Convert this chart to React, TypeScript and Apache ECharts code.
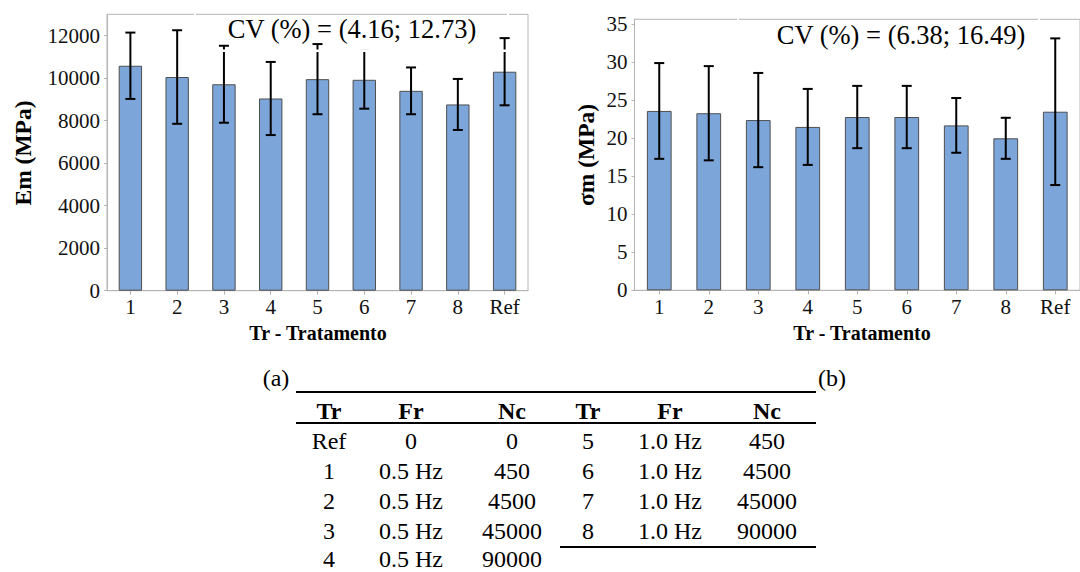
import React, { useEffect, useRef } from 'react';
import * as echarts from 'echarts';

const categories = ['1', '2', '3', '4', '5', '6', '7', '8', 'Ref'];
const emMean = [10580, 10050, 9710, 9040, 9950, 9920, 9400, 8760, 10300];
const emSd = [1560, 2200, 1810, 1720, 1650, 1360, 1100, 1200, 1580];
const sigmaMean = [23.6, 23.3, 22.4, 21.5, 22.8, 22.8, 21.7, 20.0, 23.5];
const sigmaSd = [6.3, 6.2, 6.2, 5.0, 4.1, 4.1, 3.6, 2.7, 9.65];
const emAxis = { min: 0, max: 13000, interval: 2000 };
const sigmaAxis = { min: 0, max: 35.66, interval: 5 };
const cvEm = 'CV (%) = (4.16; 12.73)';
const cvSigma = 'CV (%) = (6.38; 16.49)';
const xTitle = 'Tr - Tratamento';
const emTitle = 'Em (MPa)';
const sigmaTitle = 'σm (MPa)';
const tableHeader = ['Tr', 'Fr', 'Nc', 'Tr', 'Fr', 'Nc'];
const tableLeftRows = [
  ['Ref', '0', '0'],
  ['1', '0.5 Hz', '450'],
  ['2', '0.5 Hz', '4500'],
  ['3', '0.5 Hz', '45000'],
  ['4', '0.5 Hz', '90000'],
];
const tableRightRows = [
  ['5', '1.0 Hz', '450'],
  ['6', '1.0 Hz', '4500'],
  ['7', '1.0 Hz', '45000'],
  ['8', '1.0 Hz', '90000'],
];

const SERIF = "'Liberation Serif', 'Times New Roman', serif";
const GRAY = '#b4b4b4';

export default function App() {
  const ref = useRef<HTMLDivElement>(null);

  useEffect(() => {
    document.body.style.margin = '0';
    if (!ref.current) return;
    const chart = echarts.init(ref.current, undefined, { renderer: 'svg' });

    const errRender = (params: any, api: any) => {
      const x = api.value(0);
      const lo = api.coord([x, api.value(1)]);
      const hi = api.coord([x, api.value(2)]);
      const hw = 5;
      const style = { stroke: '#000', lineWidth: 2 };
      return {
        type: 'group',
        children: [
          { type: 'line', shape: { x1: hi[0], y1: hi[1], x2: lo[0], y2: lo[1] }, style },
          { type: 'line', shape: { x1: hi[0] - hw, y1: hi[1], x2: hi[0] + hw, y2: hi[1] }, style },
          { type: 'line', shape: { x1: lo[0] - hw, y1: lo[1], x2: lo[0] + hw, y2: lo[1] }, style },
        ],
      };
    };

    const xAxisBase = (gridIndex: number) => ({
      type: 'category',
      gridIndex,
      data: categories,
      boundaryGap: true,
      axisLine: { show: true, lineStyle: { color: GRAY, width: 1 } },
      axisTick: { show: true, alignWithLabel: true, length: 4, lineStyle: { color: GRAY } },
      axisLabel: { color: '#111', fontFamily: SERIF, fontSize: 21, margin: 6 },
      splitLine: { show: false },
    });

    const yAxisBase = (gridIndex: number, ax: any) => ({
      type: 'value',
      gridIndex,
      min: ax.min,
      max: ax.max,
      interval: ax.interval,
      axisLine: { show: true, lineStyle: { color: GRAY, width: 1 } },
      axisTick: { show: true, length: 3, lineStyle: { color: GRAY } },
      axisLabel: {
        color: '#111',
        fontFamily: SERIF,
        fontSize: 21,
        margin: 7,
        showMaxLabel: false,
        formatter: (v: number) => String(v),
      },
      splitLine: { show: false },
    });

    const barStyle = { color: '#7ca6d9', borderColor: '#4f4f4f', borderWidth: 1 };

    const tableText = (text: string, x: number, y: number, bold: boolean) => ({
      type: 'text',
      x,
      y,
      z: 100,
      style: {
        text,
        fontFamily: SERIF,
        fontSize: 24,
        fontWeight: bold ? 'bold' : 'normal',
        fill: '#000',
        align: 'center',
        verticalAlign: 'middle',
      },
    });

    const colX = [329, 411, 512, 588, 670, 767];
    const rowY = [441, 471, 501, 531, 559];
    const graphics: any[] = [];
    tableHeader.forEach((h, i) => graphics.push(tableText(h, colX[i], 411, true)));
    tableLeftRows.forEach((r, ri) => r.forEach((c, ci) => graphics.push(tableText(c, colX[ci], rowY[ri], false))));
    tableRightRows.forEach((r, ri) => r.forEach((c, ci) => graphics.push(tableText(c, colX[ci + 3], rowY[ri], false))));

    const lineStyle = { stroke: '#000', lineWidth: 2 };
    graphics.push(
      { type: 'line', z: 100, shape: { x1: 296, y1: 392, x2: 816, y2: 392 }, style: lineStyle },
      { type: 'line', z: 100, shape: { x1: 296, y1: 423, x2: 816, y2: 423 }, style: lineStyle },
      { type: 'line', z: 100, shape: { x1: 560, y1: 547, x2: 816, y2: 547 }, style: lineStyle },
    );

    const plain = (text: string, x: number, y: number, size: number, extra: any = {}) => ({
      type: 'text',
      x,
      y,
      z: 100,
      ...extra,
      style: {
        text,
        fontFamily: SERIF,
        fontSize: size,
        fill: '#000',
        align: 'center',
        verticalAlign: 'middle',
        ...(extra.style || {}),
      },
    });

    graphics.push(
      { type: 'rect', z: 90, shape: { x: 195, y: 49.5, width: 313, height: 2.5 }, style: { fill: '#fff' } },
      { type: 'rect', z: 90, shape: { x: 194, y: 12, width: 2, height: 4 }, style: { fill: '#fff' } },
      { type: 'rect', z: 90, shape: { x: 507, y: 12, width: 2, height: 4 }, style: { fill: '#fff' } },
      { type: 'rect', z: 90, shape: { x: 737, y: 17, width: 2, height: 4 }, style: { fill: '#fff' } },
      { type: 'rect', z: 90, shape: { x: 1038, y: 17, width: 2, height: 4 }, style: { fill: '#fff' } },
      plain(cvEm, 352, 29, 26.5),
      plain(cvSigma, 901, 35, 26.5),
      plain(emTitle, 23, 153, 23.5, { rotation: Math.PI / 2, style: { fontWeight: 'bold' } }),
      plain(sigmaTitle, 586, 155, 23.5, { rotation: Math.PI / 2, style: { fontWeight: 'bold' } }),
      plain(xTitle, 318, 333, 20, { style: { fontWeight: 'bold' } }),
      plain(xTitle, 862, 333, 20, { style: { fontWeight: 'bold' } }),
      plain('(a)', 276, 378, 24),
      plain('(b)', 832, 378, 24),
    );

    chart.setOption({
      animation: false,
      backgroundColor: '#fff',
      grid: [
        { left: 107, top: 14.3, width: 421, height: 276.4, show: true, borderColor: GRAY, borderWidth: 1, containLabel: false },
        { left: 634.5, top: 19.3, width: 454.5, height: 271, show: true, borderColor: GRAY, borderWidth: 1, containLabel: false },
      ],
      xAxis: [xAxisBase(0), xAxisBase(1)],
      yAxis: [yAxisBase(0, emAxis), yAxisBase(1, sigmaAxis)],
      series: [
        { type: 'bar', xAxisIndex: 0, yAxisIndex: 0, data: emMean, barWidth: '50%', itemStyle: barStyle },
        {
          type: 'custom',
          xAxisIndex: 0,
          yAxisIndex: 0,
          z: 10,
          renderItem: errRender,
          encode: { x: 0, y: [1, 2] },
          data: emMean.map((m, i) => [i, m - emSd[i], m + emSd[i]]),
        },
        { type: 'bar', xAxisIndex: 1, yAxisIndex: 1, data: sigmaMean, barWidth: '50%', itemStyle: barStyle },
        {
          type: 'custom',
          xAxisIndex: 1,
          yAxisIndex: 1,
          z: 10,
          renderItem: errRender,
          encode: { x: 0, y: [1, 2] },
          data: sigmaMean.map((m, i) => [i, m - sigmaSd[i], m + sigmaSd[i]]),
        },
      ],
      graphic: graphics,
    });

    return () => chart.dispose();
  }, []);

  return <div ref={ref} style={{ width: 1080, height: 572 }} />;
}
